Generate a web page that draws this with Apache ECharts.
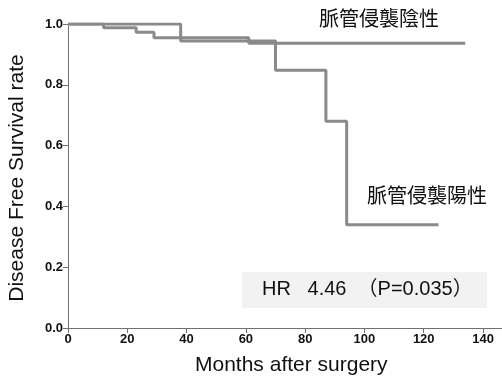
<!DOCTYPE html>
<html><head><meta charset="utf-8">
<script src="https://cdn.jsdelivr.net/npm/echarts@6/dist/echarts.min.js"></script>
<style>html,body{margin:0;padding:0;background:#fff}#c{width:502px;height:380px}</style>
</head><body><div id="c"></div>
<script>
var negTimes = [0, 12, 23, 29, 61, 134];
var negSurv  = [1.0, 0.988, 0.973, 0.955, 0.937, 0.937];
var posTimes = [0, 38, 70, 87, 94, 125];
var posSurv  = [1.0, 0.944, 0.848, 0.680, 0.340, 0.340];
var xTicks = [0, 20, 40, 60, 80, 100, 120, 140];
var yTicks = [0.0, 0.2, 0.4, 0.6, 0.8, 1.0];
var negLabel = '脈管侵襲陰性';
var posLabel = '脈管侵襲陽性';
var hrText = 'HR   4.46  （P=0.035）';
var xTitle = 'Months after surgery';
var yTitle = 'Disease Free Survival rate';

function pairs(t, s){ return t.map(function(v,i){ return [v, s[i]]; }); }
var chart = echarts.init(document.getElementById('c'), null, {renderer:'canvas'});
var axisCol = '#707070';
var lab = {color:'#111', fontFamily:'Liberation Sans, Arial, sans-serif', fontWeight:'bold', fontSize:13};
chart.setOption({
  animation:false,
  grid:{left:68, right:0, top:24, bottom:52},
  xAxis:{type:'value', min:0, max:146.4, interval:20,
    axisLine:{lineStyle:{color:axisCol, width:1}},
    axisTick:{customValues:xTicks, length:5, lineStyle:{color:axisCol}},
    axisLabel:Object.assign({customValues:xTicks, margin:5}, lab),
    splitLine:{show:false}},
  yAxis:{type:'value', min:0, max:1, interval:0.2,
    axisLine:{show:true, lineStyle:{color:axisCol, width:1}},
    axisTick:{show:true, length:5, lineStyle:{color:axisCol}},
    axisLabel:Object.assign({margin:5, formatter:function(v){return v.toFixed(1);}}, lab),
    splitLine:{show:false}},
  series:[
    {type:'line', step:'end', data:pairs(negTimes, negSurv), showSymbol:false,
      lineStyle:{color:'#8a8a8a', width:3}, z:2},
    {type:'line', step:'end', data:pairs(posTimes, posSurv), showSymbol:false,
      lineStyle:{color:'#8a8a8a', width:3}, z:3}
  ],
  graphic:[
    {type:'text', left:319, top:8, style:{text:negLabel, font:'20px "Noto Sans CJK JP"', fill:'#111'}},
    {type:'text', left:367, top:185, style:{text:posLabel, font:'20px "Noto Sans CJK JP"', fill:'#111'}},
    {type:'rect', shape:{x:242, y:272, width:245, height:36}, style:{fill:'#f2f2f2'}, z:-1},
    {type:'text', left:262, top:279, style:{text:hrText, font:'20px "Liberation Sans", "Noto Sans CJK JP"', fill:'#111'}},
    {type:'text', left:195, top:355, style:{text:xTitle, font:'21px "Liberation Sans", Arial', fill:'#111'}},
    {type:'text', x:17, y:178, rotation:Math.PI/2, style:{text:yTitle, font:'21px "Liberation Sans", Arial', fill:'#111', align:'center', verticalAlign:'middle'}}
  ]
});
</script></body></html>
